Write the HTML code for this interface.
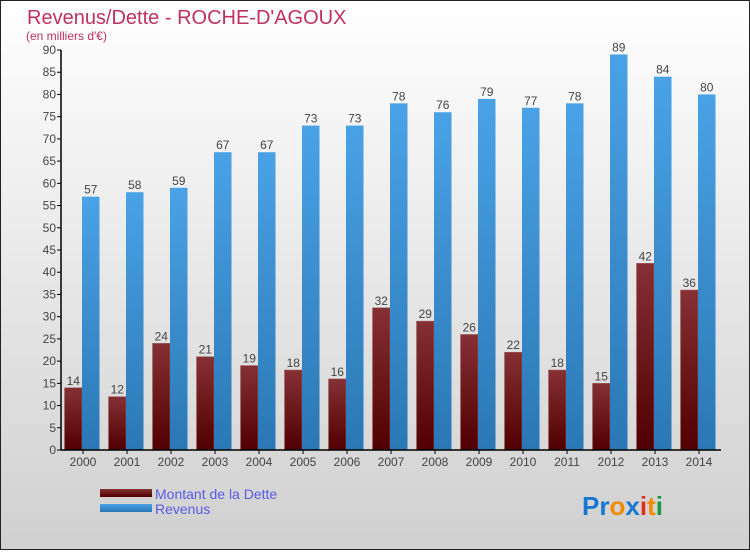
<!DOCTYPE html>
<html><head><meta charset="utf-8"><style>
html,body{margin:0;padding:0}
body{width:750px;height:550px;overflow:hidden;font-family:"Liberation Sans",sans-serif}
</style></head><body>
<svg id="chart" width="750" height="550" xmlns="http://www.w3.org/2000/svg">
<defs>
<linearGradient id="bg" x1="0" y1="0" x2="0" y2="1"><stop offset="0" stop-color="#ffffff"/><stop offset="1" stop-color="#d0d0d0"/></linearGradient>
<linearGradient id="gd" x1="0" y1="0" x2="0" y2="1"><stop offset="0" stop-color="#853035"/><stop offset="1" stop-color="#500000"/></linearGradient>
<linearGradient id="gr" x1="0" y1="0" x2="0" y2="1"><stop offset="0" stop-color="#4aa2e6"/><stop offset="1" stop-color="#2a78b4"/></linearGradient>
</defs>
<rect x="0.5" y="0.5" width="749" height="549" fill="url(#bg)" stroke="#222"/>
<text x="27" y="24" font-size="20" fill="#c0315f">Revenus/Dette - ROCHE-D'AGOUX</text>
<text x="26" y="40" font-size="12" fill="#c0315f">(en milliers d'€)</text>
<g id="plot"></g>
<rect x="100" y="489" width="52" height="8" fill="url(#gd)"/>
<text x="155" y="499" font-size="14" fill="#5a5ae6">Montant de la Dette</text>
<rect x="100" y="504" width="52" height="8" fill="url(#gr)"/>
<text x="155" y="514" font-size="14" fill="#5a5ae6">Revenus</text>
<text x="582" y="515" font-size="26" font-weight="bold"><tspan fill="#1a78d0">Pr</tspan><tspan fill="#f28a00">o</tspan><tspan fill="#1a78d0">x</tspan><tspan fill="#e03020">i</tspan><tspan fill="#f28a00">t</tspan><tspan fill="#1a9a3a">i</tspan></text>
</svg>
<script>
const years=["2000","2001","2002","2003","2004","2005","2006","2007","2008","2009","2010","2011","2012","2013","2014"];
const debt=[14,12,24,21,19,18,16,32,29,26,22,18,15,42,36];
const revenue=[57,58,59,67,67,73,73,78,76,79,77,78,89,84,80];
const yTicks=[0,5,10,15,20,25,30,35,40,45,50,55,60,65,70,75,80,85,90];
const NS="http://www.w3.org/2000/svg";
const g=document.getElementById('plot');
const x0=61,x1=721,yb=450,yt=50,ymax=90;
const gw=(x1-x0)/years.length;
function y(v){return yb-(v/ymax)*(yb-yt);}
function gx(i){return x0+i*gw;}
function mk(t,a){const e=document.createElementNS(NS,t);for(const k in a)e.setAttribute(k,a[k]);g.appendChild(e);return e;}
years.forEach((yr,i)=>{
  const bx=gx(i)+3.5,bw=17.5;
  let r=mk('rect',{x:bx,y:y(debt[i]),width:bw,height:yb-y(debt[i]),fill:'url(#gd)',stroke:'#a06060','stroke-width':0.5});
  
  
  let r2=mk('rect',{x:bx+bw,y:y(revenue[i]),width:bw,height:yb-y(revenue[i]),fill:'url(#gr)'});
  
  
  let t=mk('text',{x:bx+bw/2,y:y(debt[i])-3,'font-size':12,fill:'#444','text-anchor':'middle'});t.textContent=debt[i];
  
  
  let t2=mk('text',{x:bx+bw*1.5,y:y(revenue[i])-3,'font-size':12,fill:'#444','text-anchor':'middle'});t2.textContent=revenue[i];
  
  
  let tk=mk('line',{x1:gx(i)+gw/2,x2:gx(i)+gw/2,y1:yb,y2:yb+4,stroke:'#000'});
  
  
  let xl=mk('text',{x:gx(i)+gw/2,y:yb+16,'font-size':12,fill:'#444','text-anchor':'middle'});xl.textContent=yr;
  
  
});
yTicks.forEach(v=>{
  let l=mk('line',{x1:x0-4,x2:x0,y1:y(v),y2:y(v),stroke:'#000'});
  
  
  let t=mk('text',{x:x0-5,y:y(v)+4,'font-size':12,fill:'#444','text-anchor':'end'});t.textContent=v;
  
  
});
let ya=mk('line',{x1:x0,x2:x0,y1:yt,y2:yb,stroke:'#000','stroke-width':1.5});


let xa=mk('line',{x1:x0,x2:x1,y1:yb,y2:yb,stroke:'#000','stroke-width':1.5});


</script>
</body></html>
